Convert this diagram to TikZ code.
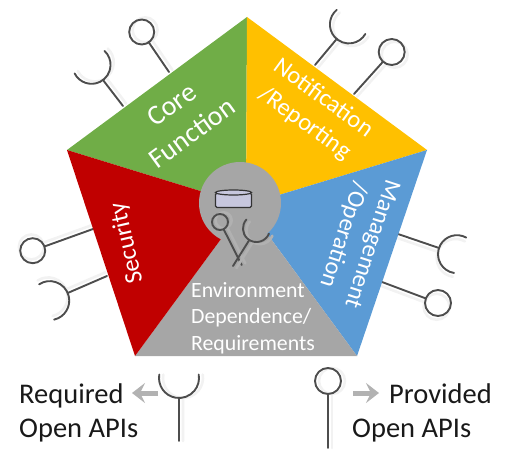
\documentclass[tikz,border=0pt]{standalone}
\usepackage{fontspec}
\setmainfont{Carlito}
\usetikzlibrary{arrows.meta, calc}

\definecolor{apigreen}{HTML}{70AD47}
\definecolor{apiyellow}{HTML}{FFC000}
\definecolor{apiblue}{HTML}{5B9BD5}
\definecolor{apired}{HTML}{C00000}
\definecolor{apigray}{HTML}{A6A6A6}
\definecolor{apidark}{HTML}{4D4D4D}

% name, centre, radius, foot, direction
\newcommand{\apiball}[5]{
    \coordinate (#1foot) at (#4);
    \begin{scope}[shift={(#5-90:4)}]
        \node [ballshadow, minimum size=2*#3] (#1shadow) at (#2) {};
    \end{scope}
    \draw [shadowline] (#1shadow) -- ($(#1foot)+(#5-90:4)$);
    \node [ball, minimum size=2*#3] (#1) at (#2) {};
    \draw [apiline] (#1) -- (#1foot);
}
% name, junction, radius, foot, direction
\newcommand{\apisocket}[5]{
    \coordinate (#1) at (#2);
    \coordinate (#1foot) at (#4);
    \begin{scope}[shift={(#5-90:4)}]
        \draw [shadowline] (#4) -- (#2) ++(#5:#3) ++(#5+80:#3) arc[start angle=#5+80, end angle=#5+280, radius=#3];
    \end{scope}
    \draw [apiline] (#1foot) -- (#1);
    \draw [apiline] (#1) ++(#5:#3) ++(#5+80:#3) arc[start angle=#5+80, end angle=#5+280, radius=#3];
}

\begin{document}
\begin{tikzpicture}[x=1pt, y=1pt, >=Stealth,
        apiline/.style={draw=apidark, line width=1.9pt, line cap=round},
        shadowline/.style={draw=black!5, line width=2.6pt, line cap=round},
        ball/.style={circle, draw=apidark, line width=1.9pt, inner sep=0pt, outer sep=0pt},
        ballshadow/.style={circle, draw=black!5, line width=2.6pt, inner sep=0pt, outer sep=0pt},
        wedge/.style={draw=none},
        wedgetext/.style={text=white, align=center, inner sep=0pt},
        legendtext/.style={text=black!90, anchor=base west, inner sep=0pt, font=\fontsize{28.5}{32}\selectfont},
        legendarrow/.style={draw=black!30, line width=5pt, -{Stealth[length=13pt, width=20pt, inset=5pt]}}]
    \useasboundingbox (0,0) rectangle (513,464);

    \coordinate (top) at (247,447);
    \coordinate (right) at (427,314);
    \coordinate (lowright) at (357,108);
    \coordinate (lowleft) at (135,108);
    \coordinate (left) at (67,314);
    \coordinate (mid) at (246,259);

    % interfaces round the pentagon
    \apiball{coreball}{141.7,432}{12.5}{169,392}{122}
    \apisocket{coresocket}{103,384}{19}{123,358}{127}
    \apisocket{notifysocket}{336.7,425}{19}{315,399}{50}
    \apiball{notifyball}{391.7,412}{13}{354,370}{48}
    \apiball{securityball}{32.7,213.3}{12.5}{93,235}{200}
    \apisocket{securitysocket}{67.7,171}{19.5}{107,188}{203}
    \apisocket{managesocket}{439,216}{19}{398,230}{-19}
    \apiball{manageball}{438,161}{13}{382,182}{-21}

    % pentagon
    \fill [wedge, apigreen] (top) -- (mid) -- (left) -- cycle;
    \fill [wedge, apiyellow] (top) -- (right) -- (mid) -- cycle;
    \fill [wedge, apiblue] (right) -- (lowright) -- (mid) -- cycle;
    \fill [wedge, apigray] (lowright) -- (lowleft) -- (mid) -- cycle;
    \fill [wedge, apired] (lowleft) -- (left) -- (mid) -- cycle;
    \fill [apigray] (240,261) circle (41);

    % database and inner interfaces
    \filldraw [fill=blue!25!gray!35!white, draw=black!80, line width=1.4pt, rounded corners=1.5pt] (215.5,271) -- (215.5,256.5) -- (251.5,256.5) -- (251.5,271) -- cycle;
    \filldraw [fill=blue!25!gray!35!white, draw=black!80, line width=1.2pt] (233.5,271.5) ellipse [x radius=18, y radius=2.5];
    \begin{scope}[shadowline/.append style={draw=apigray!88!white}, ballshadow/.append style={draw=apigray!88!white}]
        \apiball{innerball}{220,242}{8}{241.7,199}{115}
        \apisocket{innersocket}{249.3,224}{13.5}{233,198}{58}
    \end{scope}

    \node [wedgetext, rotate=36, font=\fontsize{28}{35}\selectfont] (core) at (182,345) {Core\\Function};
    \node [wedgetext, rotate=-36, font=\fontsize{24.5}{31}\selectfont] (notify) at (314,353) {Notification\\/Reporting};
    \node [wedgetext, rotate=-108, font=\fontsize{24.5}{30}\selectfont] (manage) at (357,225) {Management\\/Operation};
    \node [wedgetext, rotate=103, font=\fontsize{25}{30}\selectfont] (security) at (127,221) {Security};
    \node [wedgetext, align=left, font=\fontsize{21.8}{26.5}\selectfont] (environment) at (253,146) {Environment\\Dependence/\\Requirements};

    % legend
    \apisocket{reqsocket}{179,66}{20}{179,23}{90}
    \apiball{provball}{328,83}{13}{328,16}{90}
    \node [legendtext] (reqtext) at (19,61) {Required};
    \node [legendtext] (reqopen) at (19,27) {Open APIs};
    \node [legendtext] (provtext) at (389,61) {Provided};
    \node [legendtext] (provopen) at (352,27) {Open APIs};
    \coordinate (reqtail) at (158,71);
    \coordinate (reqtip) at (132,71);
    \coordinate (provtail) at (353,71);
    \coordinate (provtip) at (379,71);
    \draw [legendarrow] (reqtail) -- (reqtip);
    \draw [legendarrow] (provtail) -- (provtip);
\end{tikzpicture}
\end{document}
